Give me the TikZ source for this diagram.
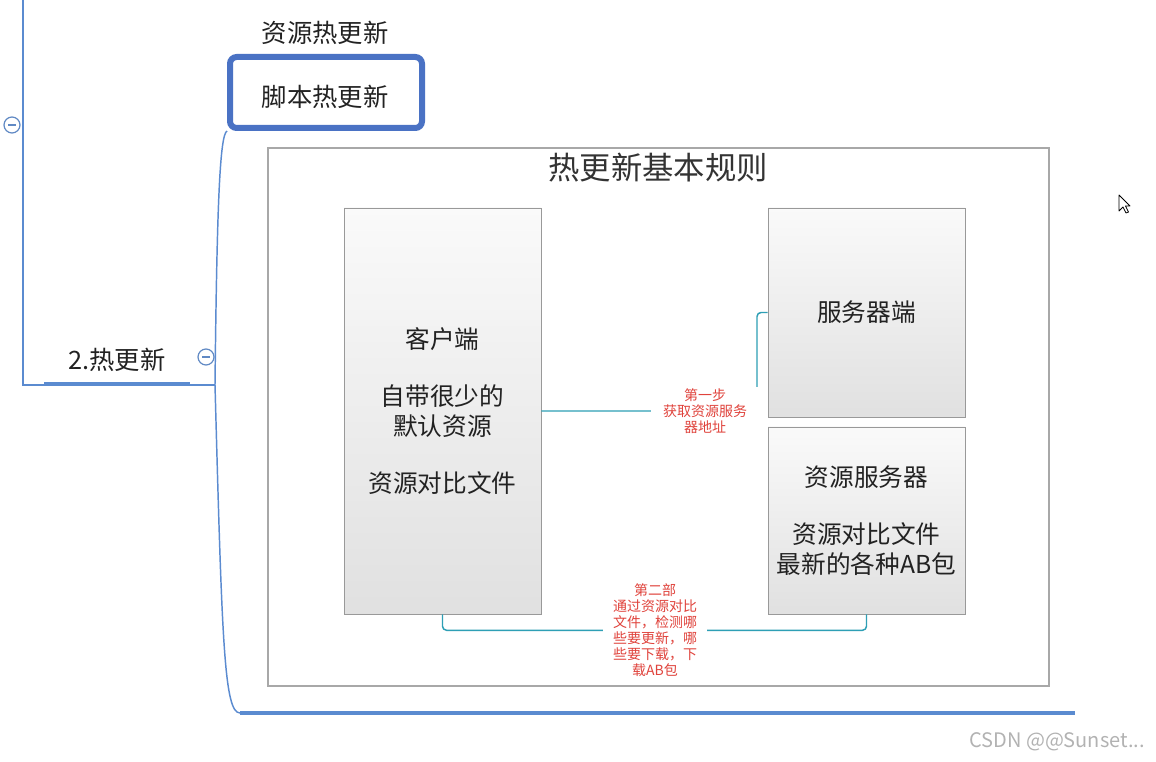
\documentclass[tikz,border=0pt]{standalone}
\usepackage{fontspec}
\setmainfont{Noto Sans CJK SC}
\usetikzlibrary{positioning,calc}
\definecolor{mapblue}{HTML}{5B8BD0}
\definecolor{selblue}{HTML}{4A72C4}
\definecolor{linkteal}{HTML}{2E9FB5}
\definecolor{notered}{HTML}{E0433C}
\definecolor{framegray}{HTML}{A8A8A8}
\definecolor{inktext}{HTML}{222222}

\begin{document}
\begin{tikzpicture}[
  x=0.75pt, y=-0.75pt,
  branch/.style={draw=mapblue, line width=1.1pt},
  topic/.style={
    font=\fontsize{19}{22}\selectfont, text=inktext, inner sep=0pt
  },
  fold/.style={
    circle, draw=mapblue!85!gray, fill=white, line width=0.9pt,
    minimum size=12pt, inner sep=0pt
  },
  stage/.style={
    rectangle, draw=black!40, top color=black!2, bottom color=black!12,
    minimum width=147.75pt, align=center, text=inktext,
    font=\fontsize{18.5}{22.5}\selectfont
  },
  link/.style={draw=linkteal, line width=1.1pt, rounded corners=3pt},
  note/.style={
    fill=white, text=notered, align=center, inner ysep=1pt,
    font=\fontsize{10.5}{12}\selectfont
  }
]
\useasboundingbox (0,0) rectangle (1156,762);

% Mind map branch on the left
\coordinate (trunk top) at (23,0);
\coordinate (trunk bend) at (23,385);
\coordinate (fork) at (215,385);
\node[fold] (rootfold) at (12,125) {};
\draw[mapblue!85!gray, line width=0.9pt]
  ([xshift=-3pt]rootfold.center) -- ([xshift=3pt]rootfold.center);
\draw[branch] (trunk top) -- (trunk bend) -- (fork);

\node[topic] (hot) at (117,360) {2.热更新};
\draw[mapblue, line width=3pt] (44,384) -- (190,384);
\node[fold] (hotfold) at (206,357) {};
\draw[mapblue!85!gray, line width=0.9pt]
  ([xshift=-3pt]hotfold.center) -- ([xshift=3pt]hotfold.center);

% Sub topics
\node[topic] (asset) at (325,33) {资源热更新};
\node[draw=selblue, line width=4.5pt, rounded corners=5pt,
  minimum width=144pt, minimum height=53.25pt] (script) at (326,92.5) {};
\node[topic] (scriptlabel) at (325,97) {脚本热更新};

\coordinate (rule start) at (240,713);
\coordinate (rule end) at (1075,713);
\draw[branch] (fork) .. controls (217,200) and (220,135) .. (script.south west);
\draw[branch] (fork) .. controls (222,640) and (224,713) .. (rule start);
\draw[mapblue, line width=3.4pt] (rule start) -- (rule end);

% Rule frame
\node[draw=framegray, line width=0.8pt, fill=white,
  minimum width=585.75pt, minimum height=403.5pt] (frame) at (658.5,417) {};
\node[font=\fontsize{23.5}{26}\selectfont, text=black!80] (title)
  at (658,168) {热更新基本规则};

\node[stage, minimum height=304.5pt] (client) at (442.5,411)
  {客户端\\[20pt]自带很少的\\默认资源\\[20pt]资源对比文件};
\node[stage, minimum height=156.75pt] (server) at (866.5,312.5) {服务器端};
\node[stage, minimum height=140.25pt] (assetserver) at (866.5,520.5)
  {资源服务器\\[20pt]资源对比文件\\最新的各种AB包};

% Step one
\draw[link] (client.east) -- (757,411) |- (server.west);
\node[note, inner xsep=9pt] (stepone) at (705,411)
  {第一步\\获取资源服务\\器地址};

% Step two
\draw[link] (client.south) -- ++(0,16) -| (assetserver.south);
\node[note, inner xsep=7.5pt] (steptwo) at (655,630)
  {第二部\\通过资源对比\\文件，检测哪\\些要更新，哪\\些要下载，下\\载AB包};

% Mouse pointer
\draw[line width=0.6pt, fill=white, line join=round]
  (1119,195) -- (1119,211) -- (1123,207) -- (1126,213) -- (1128.5,212)
  -- (1125.5,206) -- (1130,206) -- cycle;

% Watermark
\node[font=\fontsize{15}{18}\selectfont, text=black!30] (mark)
  at (1057,742) {CSDN @@Sunset...};

\end{tikzpicture}
\end{document}
